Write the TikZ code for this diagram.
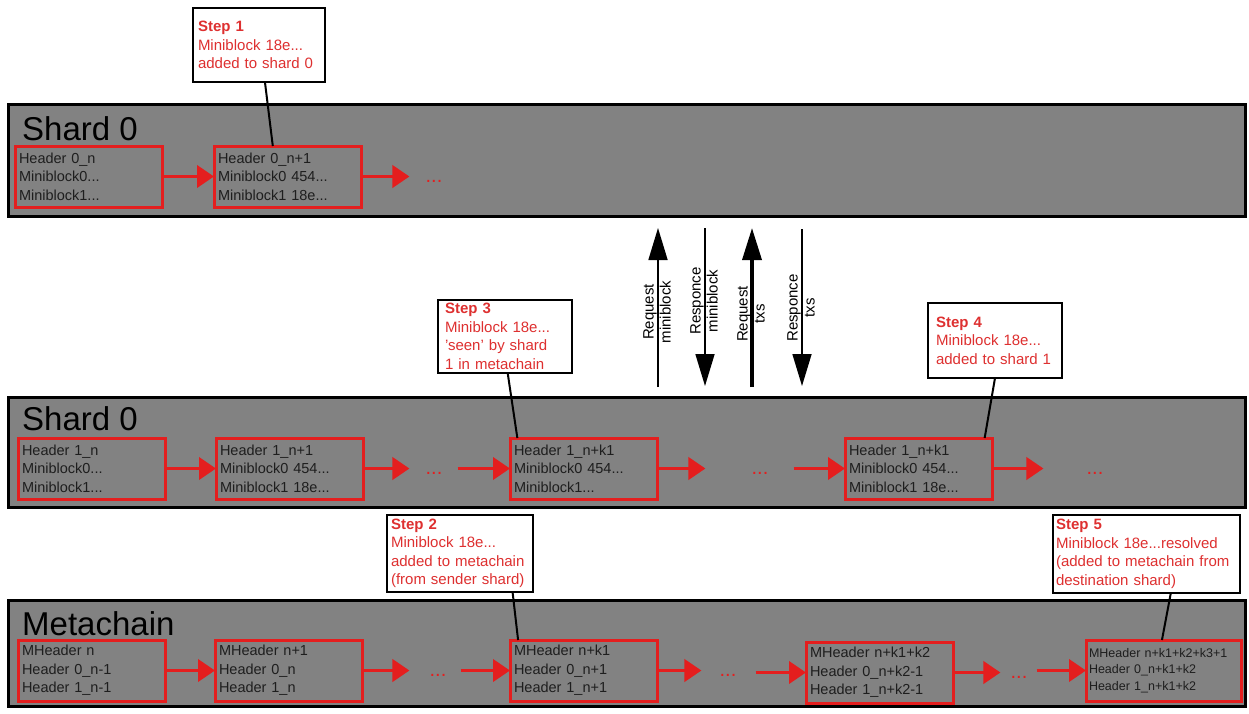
\documentclass[tikz,border=0pt]{standalone}
\usepackage{fontspec}
\setmainfont{Liberation Sans}
\usetikzlibrary{arrows.meta,calc}
\definecolor{bandgray}{RGB}{130,130,130}
\definecolor{chainred}{RGB}{228,30,30}
\definecolor{notered}{RGB}{222,48,48}
\definecolor{blocktext}{RGB}{30,30,30}

\begin{document}
\begin{tikzpicture}[x=1pt,y=-1pt,
  band/.style={draw=black, line width=3pt, fill=bandgray, anchor=north west,
    outer sep=0pt, inner sep=0pt, minimum width=1237pt},
  bandlabel/.style={anchor=base west, inner sep=0pt, font=\fontsize{33}{33}\selectfont},
  blk/.style={draw=chainred, line width=3pt, anchor=north west, outer sep=0pt,
    minimum width=147pt, minimum height=61pt, text width=139pt, inner xsep=4pt,
    inner ysep=0pt, align=left, text=blocktext, font=\fontsize{14.5}{18.5}\selectfont},
  smallblk/.style={blk, minimum width=155pt, text width=149pt, inner xsep=3pt,
    font=\fontsize{12.5}{16.5}\selectfont},
  dots/.style={anchor=base, inner sep=0pt, text=chainred, font=\fontsize{20}{20}\selectfont},
  link/.style={draw=chainred, line width=3.8pt, -{Triangle[length=17pt,width=22pt]}},
  stepbox/.style={draw=black, line width=2pt, fill=white, anchor=north west,
    outer sep=0pt, inner ysep=0pt, align=left, text=notered,
    font=\fontsize{15}{18.5}\selectfont},
  pointer/.style={draw=black, line width=2pt},
  msgarrow/.style={draw=black, line width=1.6pt, -{Triangle[length=32pt,width=19pt]}},
  msglabel/.style={rotate=90, align=center, inner sep=0pt, font=\fontsize{15}{17}\selectfont}
]
\useasboundingbox (0,0) rectangle (1249,713);

% ---------------- sender shard ----------------
\node[band, minimum height=112pt] (shardA) at (8,104) {};
\node[bandlabel] (shardAlbl) at (22,140) {Shard 0};
\node[blk] (a1) at (15,146) {Header 0\_n\\Miniblock0...\\Miniblock1...};
\node[blk] (a2) at (214,146) {Header 0\_n+1\\Miniblock0 454...\\Miniblock1 18e...};
\node[dots] (ad1) at (434,182) {...};
\draw[link] (a1.east) -- (a2.west);
\draw[link, shorten >=16pt] (a2.east) -- (a2.east -| ad1.west);

% ---------------- destination shard ----------------
\node[band, minimum height=110pt] (shardB) at (8,397) {};
\node[bandlabel] (shardBlbl) at (22,430) {Shard 0};
\node[blk] (b1) at (18,438) {Header 1\_n\\Miniblock0...\\Miniblock1...};
\node[blk] (b2) at (216,438) {Header 1\_n+1\\Miniblock0 454...\\Miniblock1 18e...};
\node[blk] (b3) at (510,438) {Header 1\_n+k1\\Miniblock0 454...\\Miniblock1...};
\node[blk] (b4) at (845,438) {Header 1\_n+k1\\Miniblock0 454...\\Miniblock1 18e...};
\node[dots] (bd1) at (434,474) {...};
\node[dots] (bd2) at (760,474) {...};
\node[dots] (bd3) at (1095,474) {...};
\draw[link] (b1.east) -- (b2.west);
\draw[link, shorten >=16pt] (b2.east) -- (b2.east -| bd1.west);
\draw[link, shorten <=15pt] (b3.west -| bd1.east) -- (b3.west);
\draw[link, shorten >=46pt] (b3.east) -- (b3.east -| bd2.west);
\draw[link, shorten <=25pt] (b4.west -| bd2.east) -- (b4.west);
\draw[link, shorten >=43pt] (b4.east) -- (b4.east -| bd3.west);

% ---------------- metachain ----------------
\node[band, minimum height=106pt] (meta) at (8,600) {};
\node[bandlabel] (metalbl) at (22,635) {Metachain};
\node[blk] (m1) at (18,640) {MHeader n\\Header 0\_n-1\\Header 1\_n-1};
\node[blk] (m2) at (215,640) {MHeader n+1\\Header 0\_n\\Header 1\_n};
\node[blk] (m3) at (510,640) {MHeader n+k1\\Header 0\_n+1\\Header 1\_n+1};
\node[blk] (m4) at (806,642) {MHeader n+k1+k2\\Header 0\_n+k2-1\\Header 1\_n+k2-1};
\node[smallblk] (m5) at (1086,640) {MHeader n+k1+k2+k3+1\\Header 0\_n+k1+k2\\Header 1\_n+k1+k2};
\node[dots] (md1) at (438,676) {...};
\node[dots] (md2) at (728,676) {...};
\node[dots] (md3) at (1019,678) {...};
\draw[link] (m1.east) -- (m2.west);
\draw[link, shorten >=20pt] (m2.east) -- (m2.east -| md1.west);
\draw[link, shorten <=14pt] (m3.west -| md1.east) -- (m3.west);
\draw[link, shorten >=18pt] (m3.east) -- (m3.east -| md2.west);
\draw[link, shorten <=19pt] (m4.west -| md2.east) -- (m4.west);
\draw[link, shorten >=10pt] (m4.east) -- (m4.east -| md3.west);
\draw[link, shorten <=9pt] (m5.west -| md3.east) -- (m5.west);

% ---------------- step notes ----------------
\node[stepbox, minimum width=132pt, minimum height=74pt, text width=122pt, inner xsep=5pt]
  (s1) at (193,8) {\textbf{Step 1}\\Miniblock 18e...\\added to shard 0};
\node[stepbox, minimum width=134pt, minimum height=73pt, text width=120pt, inner xsep=7pt]
  (s3) at (438,300) {\textbf{Step 3}\\Miniblock 18e...\\'seen' by shard\\1 in metachain};
\node[stepbox, minimum width=134pt, minimum height=75pt, text width=118pt, inner xsep=8pt]
  (s4) at (928,303) {\textbf{Step 4}\\Miniblock 18e...\\added to shard 1};
\node[stepbox, minimum width=146pt, minimum height=77pt, text width=138pt, inner xsep=4pt]
  (s2) at (387,515) {\textbf{Step 2}\\Miniblock 18e...\\added to metachain\\(from sender shard)};
\node[stepbox, minimum width=187pt, minimum height=78pt, text width=181pt, inner xsep=3pt]
  (s5) at (1053,515) {\textbf{Step 5}\\Miniblock 18e...resolved\\(added to metachain from\\destination shard)};

\draw[pointer] ($(s1.south west)!0.545!(s1.south east)$) -- ($(a2.north west)!0.40!(a2.north east)$);
\draw[pointer] ($(s3.south west)!0.52!(s3.south east)$) -- ($(b3.north west)!0.05!(b3.north east)$);
\draw[pointer] ($(s4.south west)!0.50!(s4.south east)$) -- ($(b4.north west)!0.95!(b4.north east)$);
\draw[pointer] ($(s2.south west)!0.86!(s2.south east)$) -- ($(m3.north west)!0.055!(m3.north east)$);
\draw[pointer] ($(s5.south west)!0.63!(s5.south east)$) -- ($(m5.north west)!0.49!(m5.north east)$);

% ---------------- request / response messages ----------------
\coordinate (r1lo) at (658,387);  \coordinate (r1hi) at (658,228);
\coordinate (r2hi) at (705,228);  \coordinate (r2lo) at (705,386);
\coordinate (r3lo) at (752,387);  \coordinate (r3hi) at (752,228);
\coordinate (r4hi) at (802,229);  \coordinate (r4lo) at (802,386);
\draw[msgarrow] (r1lo) -- (r1hi);
\draw[msgarrow] (r2hi) -- (r2lo);
\draw[msgarrow, line width=3.5pt] (r3lo) -- (r3hi);
\draw[msgarrow] (r4hi) -- (r4lo);
\node[msglabel] (l1) at (657,312) {Request\\miniblock};
\node[msglabel] (l2) at (704,301) {Responce\\miniblock};
\node[msglabel] (l3) at (751,314) {Request\\txs};
\node[msglabel] (l4) at (801,308) {Responce\\txs};
\end{tikzpicture}
\end{document}
